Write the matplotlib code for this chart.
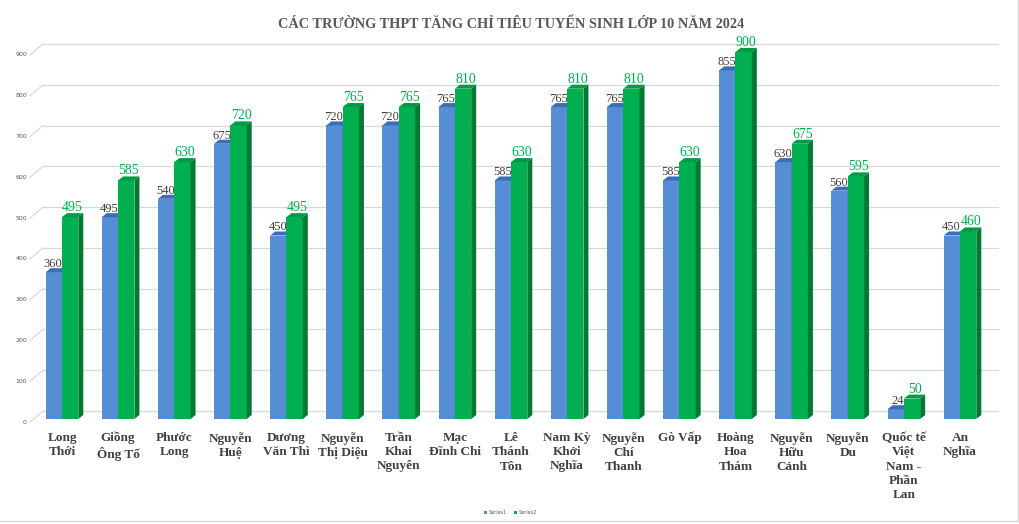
import numpy as np
import matplotlib
matplotlib.use("Agg")
import matplotlib.pyplot as plt
from matplotlib.patches import Polygon

# du lieu
truong = ["Long\nThới", "Giồng\nÔng Tố", "Phước\nLong", "Nguyễn\nHuệ", "Dương\nVăn Thì",
          "Nguyễn\nThị Diệu", "Trần\nKhai\nNguyên", "Mạc\nĐĩnh Chi", "Lê\nThánh\nTôn",
          "Nam Kỳ\nKhởi\nNghĩa", "Nguyễn\nChí\nThanh", "Gò Vấp", "Hoàng\nHoa\nThám",
          "Nguyễn\nHữu\nCảnh", "Nguyễn\nDu", "Quốc tế\nViệt\nNam -\nPhần\nLan", "An\nNghĩa"]
series1 = [360, 495, 540, 675, 450, 720, 720, 765, 585, 765, 765, 585, 855, 630, 560, 24, 450]
series2 = [495, 585, 630, 720, 495, 765, 765, 810, 630, 810, 810, 630, 900, 675, 595, 50, 460]
yticks = [0, 100, 200, 300, 400, 500, 600, 700, 800, 900]

W, H = 1020, 524
fig = plt.figure(figsize=(W / 100, H / 100), dpi=100)
# truc: 0 o y=419px, 900 o y=52px ; cot 0 o x=62px, cot 16 o x=960px
px_x = 56.125
px_y = 367 / 900
x_left, x_right = 30, 1000
y_bot, y_top = 419, 30
ax = fig.add_axes([x_left / W, (H - y_bot) / H, (x_right - x_left) / W, (y_bot - y_top) / H])
ax.set_xlim(-(62 - x_left) / px_x, 16 + (x_right - 960) / px_x)
ax.set_ylim(0, (y_bot - y_top) / px_y)
ax.axis("off")

xmin = ax.get_xlim()[0]
# luoi o tuong sau
gx0 = xmin + 13 / px_x
gx1 = 16 + (998 - 960) / px_x
for g in yticks:
    yb = g + 8 / px_y
    ax.plot([gx0, gx1], [yb, yb], color="#d9d9d9", lw=0.9, zorder=0, clip_on=False)
    ax.plot([xmin, gx0], [g - 3 / px_y, yb], color="#d9d9d9", lw=0.9, zorder=0, clip_on=False)
    ax.text(xmin - 3 / px_x, g - 3 / px_y, str(g), ha="right", va="center",
            fontsize=4.5, color="#595959", clip_on=False)

bw = 16.3 / px_x
dx = 5 / px_x
dy = 4 / px_y
x = np.arange(len(truong))


def cot3d(x0, v, mau_truoc, mau_tren, mau_ben):
    x1 = x0 + bw
    ax.add_patch(Polygon([(x0, 0), (x1, 0), (x1, v), (x0, v)], closed=True,
                         facecolor=mau_truoc, edgecolor="none", zorder=2))
    ax.add_patch(Polygon([(x0, v), (x0 + dx, v + dy), (x1 + dx, v + dy), (x1, v)], closed=True,
                         facecolor=mau_tren, edgecolor="none", zorder=2))
    ax.add_patch(Polygon([(x1, 0), (x1 + dx, dy), (x1 + dx, v + dy), (x1, v)], closed=True,
                         facecolor=mau_ben, edgecolor="none", zorder=2))


for i in range(len(truong)):
    cot3d(x[i] - bw, series1[i], "#558ed5", "#3c6db5", "#3a68ab")
    cot3d(x[i], series2[i], "#00b050", "#009a45", "#007a33")
    ax.text(x[i] + 0.01, series1[i] + 2 / px_y, str(series1[i]), ha="right", va="bottom",
            fontsize=9, color="#404040", family="Liberation Serif", zorder=3)
    ax.text(x[i] + bw / 2 + dx / 2, series2[i] + 3 / px_y, str(series2[i]), ha="center", va="bottom",
            fontsize=10, color="#00b050", family="Liberation Serif", zorder=3)
    ax.text(x[i], -13 / px_y, truong[i], ha="center", va="top", fontsize=9.5,
            fontweight="bold", color="#404040", family="Liberation Serif",
            linespacing=1.25, clip_on=False)

fig.text(511 / W, 1 - 24 / H, "CÁC TRƯỜNG THPT TĂNG CHỈ TIÊU TUYỂN SINH LỚP 10 NĂM 2024",
         ha="center", va="center", fontsize=10.3, fontweight="bold", color="#595959",
         family="Liberation Serif")

# chu thich
fig.patches.append(plt.Rectangle((484 / W, 1 - 514 / H), 3 / W, 3 / H, transform=fig.transFigure,
                                 facecolor="#558ed5", edgecolor="none"))
fig.text(489 / W, 1 - 512.5 / H, "Series1", fontsize=3.5, color="#595959", va="center")
fig.patches.append(plt.Rectangle((514 / W, 1 - 514 / H), 3 / W, 3 / H, transform=fig.transFigure,
                                 facecolor="#00b050", edgecolor="none"))
fig.text(519 / W, 1 - 512.5 / H, "Series2", fontsize=3.5, color="#595959", va="center")

# vien
fig.lines.append(plt.Line2D([1018 / W, 1018 / W], [1 - 521 / H, 1], transform=fig.transFigure,
                            color="#d9d9d9", lw=1))
fig.lines.append(plt.Line2D([0, 1018 / W], [1 - 521 / H, 1 - 521 / H], transform=fig.transFigure,
                            color="#d9d9d9", lw=1))

fig.savefig("out.png", dpi=100)
